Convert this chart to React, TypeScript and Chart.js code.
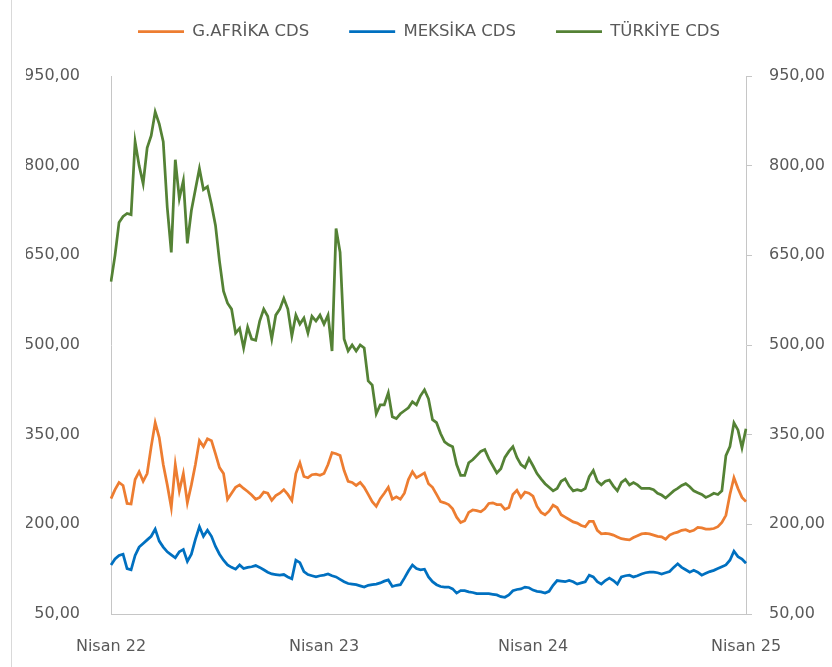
import { useEffect, useRef } from "react";
import { Chart, registerables } from "chart.js";

Chart.register(...registerables);

const SERIES_NAMES = ["G.AFRİKA CDS", "MEKSİKA CDS", "TÜRKİYE CDS"];
const SERIES_COLORS = ["#ED7D31", "#0070C0", "#548235"];
const TICK_LABELS = ["Nisan 22", "Nisan 23", "Nisan 24", "Nisan 25"];
const TICK_POSITIONS = [0, 53, 105, 158];
const Y_MIN = 50;
const Y_MAX = 950;
const Y_STEP = 150;

// weekly observations, Nisan 2022 – Nisan 2025
const GAFRIKA = [
  243, 258, 270, 265, 235, 234, 275, 288, 272, 285,
  330, 370, 345, 300, 266, 228, 300, 256, 285, 236,
  266, 300, 340, 330, 343, 340, 318, 295, 285, 242,
  252, 262, 266, 260, 255, 249, 242, 245, 254, 252,
  240, 248, 252, 258, 250, 240, 285, 303, 280, 278,
  283, 284, 282, 285, 300, 320, 318, 315, 290, 272,
  270, 265, 270, 262, 250, 238, 230, 243, 252, 262,
  242, 246, 242, 252, 275, 288, 278, 282, 286, 268,
  262, 250, 238, 236, 233, 226, 212, 203, 206, 220,
  224, 223, 221, 226, 235, 236, 233, 233, 225, 228,
  250, 257, 245, 254, 252, 247, 230, 220, 216, 222,
  232, 228, 216, 212, 208, 204, 202, 198, 196, 205,
  205, 190, 184, 185, 184, 182, 179, 176, 175, 174,
  178, 181, 184, 185, 184, 182, 180, 179, 175, 182,
  185, 187, 190, 191, 188, 190, 195, 194, 192, 192,
  193, 196, 203, 215, 250, 278, 260, 245, 238,
];

const MEKSIKA = [
  132, 142, 148, 150, 126, 124, 148, 162, 168, 174,
  180, 192, 172, 162, 154, 149, 144, 154, 158, 138,
  150, 175, 196, 180, 190, 180, 163, 150, 140, 132,
  128, 125, 132, 126, 128, 129, 131, 128, 124, 120,
  117, 116, 115, 116, 112, 109, 140, 136, 121, 116,
  114, 112, 114, 115, 117, 114, 112, 108, 104, 101,
  100, 99, 97, 95, 98, 99, 100, 102, 105, 107,
  96, 98, 99, 110, 122, 132, 126, 124, 125, 112,
  104, 99, 96, 95, 95, 92, 85, 89, 89, 87,
  86, 84, 84, 84, 84, 83, 82, 79, 78, 82,
  89, 91, 92, 95, 94, 90, 88, 87, 85, 88,
  98, 106, 105, 104, 106, 104, 100, 102, 104, 115,
  112, 104, 100, 106, 110, 106, 100, 112, 114, 115,
  112, 114, 117, 119, 120, 120, 119, 117, 119, 121,
  128, 134, 128, 124, 120, 123, 120, 115, 118, 121,
  123, 126, 129, 132, 140, 155, 146, 142, 135,
];

const TURKIYE = [
  606, 650, 705, 715, 720, 718, 840, 800, 770, 830,
  850, 890, 870, 840, 730, 655, 810, 745, 775, 670,
  725, 760, 795, 760, 765, 735, 700, 640, 590, 570,
  560, 520, 528, 495, 530, 510, 508, 540, 560, 548,
  510, 550, 560, 578, 560, 515, 550, 535, 545, 520,
  548, 540, 550, 535, 550, 490, 695, 655, 510, 490,
  500, 490, 500, 495, 440, 433, 385, 400, 400, 420,
  380, 377, 385, 390, 395, 405, 400, 415, 425, 410,
  375, 370, 352, 338, 333, 330, 300, 282, 282, 303,
  308, 315, 322, 325, 310, 298, 286, 293, 312, 322,
  330, 312, 300, 295, 310, 298, 285, 276, 268, 262,
  256, 260, 272, 276, 264, 256, 258, 256, 260, 280,
  290, 272, 266, 272, 274, 264, 256, 270, 275, 266,
  270, 266, 260, 260, 260, 258, 252, 249, 244, 250,
  256, 260, 265, 268, 263, 256, 253, 250, 245, 248,
  252, 250, 256, 315, 330, 370, 358, 328, 360,
];

const WEEKS = GAFRIKA.map((_, i) => String(i));

const TEXT = "#595959";
const AXIS = "#c6c6c6";
const FONT = '"DejaVu Sans", Verdana, sans-serif';

const fmt = (v: number | string) => Number(v).toFixed(2).replace(".", ",");

export default function App() {
  const ref = useRef<HTMLCanvasElement>(null);

  useEffect(() => {
    if (!ref.current) return;
    const legendSpacer = {
      id: "legendSpacer",
      beforeInit(chart: any) {
        const legend = chart.legend;
        if (!legend) return;
        const orig = legend.fit;
        legend.fit = function () {
          orig.call(this);
          this.height += 26.25;
        };
      },
    };

    const chart = new Chart(ref.current, {
      type: "line",
      data: {
        labels: WEEKS,
        datasets: [GAFRIKA, MEKSIKA, TURKIYE].map((d, k) => ({
          label: SERIES_NAMES[k],
          data: d,
          borderColor: SERIES_COLORS[k],
          backgroundColor: SERIES_COLORS[k],
          borderWidth: 2.75,
          pointRadius: 0,
          tension: 0,
          yAxisID: "y",
        })),
      },
      options: {
        responsive: false,
        animation: false,
        events: [],
        layout: { padding: { left: 26, right: 0, top: -16.75, bottom: 0 } },
        plugins: {
          tooltip: { enabled: false },
          legend: {
            position: "top",
            align: "center",
            labels: {
              usePointStyle: true,
              pointStyle: "line",
              pointStyleWidth: 46,
              padding: 40,
              color: TEXT,
              font: { family: FONT, size: 16.5 },
            },
          },
        },
        scales: {
          x: {
            type: "category",
            offset: false,
            grid: { display: false },
            border: { display: true, color: AXIS, width: 1 },
            ticks: {
              autoSkip: false,
              maxRotation: 0,
              minRotation: 0,
              padding: 15,
              color: TEXT,
              font: { family: FONT, size: 16 },
              callback: (_v: any, i: number) => {
                const k = TICK_POSITIONS.indexOf(i);
                return k >= 0 ? TICK_LABELS[k] : "";
              },
            },
            afterFit: (s: any) => {
              s.height = 53;
            },
          },
          y: {
            position: "left",
            min: Y_MIN,
            max: Y_MAX,
            grid: { display: false },
            border: { display: true, color: AXIS, width: 1 },
            ticks: {
              stepSize: Y_STEP,
              padding: 23,
              color: TEXT,
              font: { family: FONT, size: 16 },
              callback: (v: any) => fmt(v),
            },
            afterFit: (s: any) => {
              s.width = 85;
            },
          },
          y1: {
            position: "right",
            min: Y_MIN,
            max: Y_MAX,
            grid: {
              display: true,
              drawOnChartArea: false,
              drawTicks: true,
              tickLength: 6,
              color: AXIS,
            },
            border: { display: true, color: AXIS, width: 1 },
            ticks: {
              stepSize: Y_STEP,
              padding: 17,
              color: TEXT,
              font: { family: FONT, size: 16 },
              callback: (v: any) => fmt(v),
            },
            afterFit: (s: any) => {
              s.width = 86;
            },
          },
        },
      },
      plugins: [legendSpacer],
    } as any);

    return () => chart.destroy();
  }, []);

  return (
    <div
      style={{
        position: "absolute",
        left: 0,
        top: 0,
        width: 832,
        height: 667,
        background: "#ffffff",
      }}
    >
      <div
        style={{
          position: "absolute",
          left: 11,
          top: 0,
          width: 1,
          height: 667,
          background: "#d9d9d9",
        }}
      />
      <canvas
        ref={ref}
        width={832}
        height={667}
        style={{ position: "absolute", left: 0, top: 0, display: "block" }}
      />
    </div>
  );
}
